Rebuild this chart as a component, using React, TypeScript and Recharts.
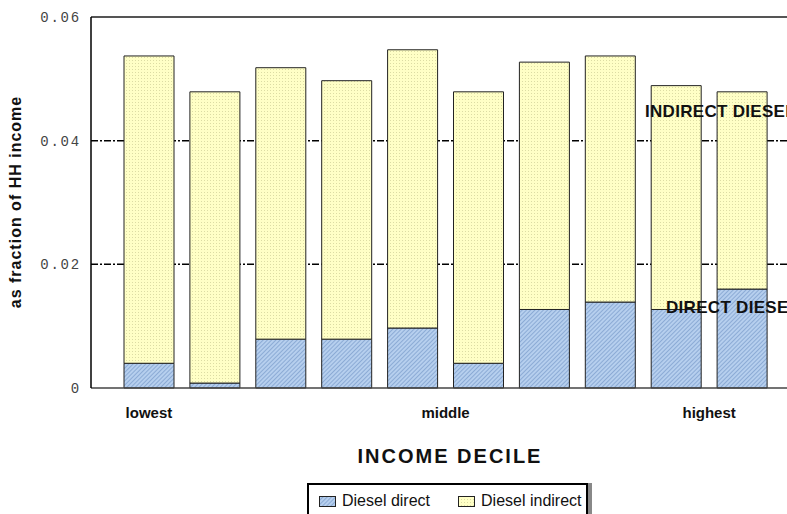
import React from 'react';
import { Bar, BarChart, CartesianGrid, ReferenceLine, XAxis, YAxis } from 'recharts';

const deciles = ['1', '2', '3', '4', '5', '6', '7', '8', '9', '10'];
const tickLabels = ['lowest', '', '', '', 'middle', '', '', '', 'highest', ''];
const dieselDirect = [0.004, 0.0008, 0.0079, 0.0079, 0.0097, 0.004, 0.0127, 0.0139, 0.0127, 0.016];
const dieselIndirect = [0.0497, 0.0471, 0.0439, 0.0418, 0.045, 0.0439, 0.04, 0.0398, 0.0362, 0.0319];
const yTicks = [0, 0.02, 0.04, 0.06];
const seriesNames = ['Diesel direct', 'Diesel indirect'];

const data = deciles.map((d, i) => ({
  decile: d,
  label: tickLabels[i],
  direct: dieselDirect[i],
  indirect: dieselIndirect[i],
}));

const sans = '"Liberation Sans", Arial, sans-serif';

const XTick = (props: any) => {
  const { x, y, payload } = props;
  const label = tickLabels[payload.index];
  if (!label) return null;
  // labels after the first one sit half a band to the right
  const shift = payload.index > 0 ? 33 : 0;
  return (
    <text x={x + shift} y={y + 22} textAnchor="middle" fontFamily={sans} fontWeight="bold" fontSize={15} fill="#111">
      {label}
    </text>
  );
};

const fmt = (v: number) => (v === 0 ? '0' : v.toFixed(2));

const Swatch = ({ fill }: { fill: string }) => (
  <svg width={17} height={11} style={{ display: 'inline-block', verticalAlign: 'middle', marginRight: 6 }}>
    <rect x={0.5} y={0.5} width={16} height={10} fill={fill} stroke="#222" strokeWidth={1} />
  </svg>
);

const App = () => {
  return (
    <div style={{ position: 'absolute', left: 0, top: 0, width: 787, height: 514, overflow: 'hidden', background: '#fff' }}>
      <BarChart width={787} height={514} data={data} margin={{ top: 17, right: 0, left: 0, bottom: 0 }} barSize={50}>
        <defs>
          <pattern id="hatch" width="3" height="3" patternUnits="userSpaceOnUse" patternTransform="rotate(45)">
            <rect width="3" height="3" fill="#b6cfee" />
            <line x1="0" y1="0" x2="0" y2="3" stroke="#6f93c4" strokeWidth="1.2" />
          </pattern>
          <pattern id="dots" width="3" height="3" patternUnits="userSpaceOnUse">
            <rect width="3" height="3" fill="#ffffc6" />
            <rect width="1" height="1" fill="#dcdca4" />
          </pattern>
        </defs>
        <CartesianGrid
          vertical={false}
          horizontalValues={[0.02, 0.04]}
          stroke="#000"
          strokeWidth={1.5}
          strokeDasharray="7 2 2 2"
        />
        <ReferenceLine y={0.06} stroke="#555" strokeWidth={2} />
        <XAxis
          dataKey="decile"
          height={126}
          padding={{ left: 25, right: 12 }}
          axisLine={{ stroke: '#444', strokeWidth: 1.5 }}
          tickLine={false}
          interval={0}
          tick={<XTick />}
          label={{
            content: () => (
              <text x={450} y={463} textAnchor="middle" fontFamily={sans} fontWeight="bold" fontSize={20} letterSpacing={2} fill="#111">
                INCOME DECILE
              </text>
            ),
          }}
        />
        <YAxis
          width={91}
          domain={[0, 0.06]}
          ticks={yTicks}
          tickFormatter={fmt}
          axisLine={{ stroke: '#000', strokeWidth: 1.5 }}
          tickLine={false}
          tickMargin={4}
          tick={{ fontFamily: '"Liberation Mono", monospace', fontSize: 14, fill: '#444', letterSpacing: 1.8 }}
          label={{
            content: () => (
              <text
                x={21}
                y={202}
                transform="rotate(-90, 21, 202)"
                textAnchor="middle"
                fontFamily={sans}
                fontWeight="bold"
                fontSize={16}
                letterSpacing={1}
                fill="#111"
              >
                as fraction of HH income
              </text>
            ),
          }}
        />
        <Bar dataKey="direct" stackId="a" name={seriesNames[0]} fill="url(#hatch)" stroke="#222" strokeWidth={1} isAnimationActive={false} />
        <Bar dataKey="indirect" stackId="a" name={seriesNames[1]} fill="url(#dots)" stroke="#222" strokeWidth={1} isAnimationActive={false} />
      </BarChart>

      <svg width={787} height={514} style={{ position: 'absolute', left: 0, top: 0, pointerEvents: 'none' }}>
        <text x={645} y={117} fontFamily={sans} fontWeight="bold" fontSize={17} letterSpacing={0.3} fill="#111">
          INDIRECT DIESEL
        </text>
        <text x={666} y={313} fontFamily={sans} fontWeight="bold" fontSize={17} letterSpacing={0.3} fill="#111">
          DIRECT DIESEL
        </text>
      </svg>

      <div
        style={{
          position: 'absolute',
          left: 307,
          top: 483,
          width: 281,
          height: 40,
          border: '2px solid #000',
          boxShadow: '4px 0 0 #888',
          background: '#fff',
          fontFamily: sans,
          fontSize: 16,
          color: '#111',
          display: 'flex',
          alignItems: 'flex-start',
          paddingTop: 7,
          paddingLeft: 10,
          boxSizing: 'border-box',
        }}
      >
        <span style={{ marginRight: 28, whiteSpace: 'nowrap' }}>
          <Swatch fill="url(#hatch)" />
          {seriesNames[0]}
        </span>
        <span style={{ whiteSpace: 'nowrap' }}>
          <Swatch fill="url(#dots)" />
          {seriesNames[1]}
        </span>
      </div>
    </div>
  );
};

export default App;
